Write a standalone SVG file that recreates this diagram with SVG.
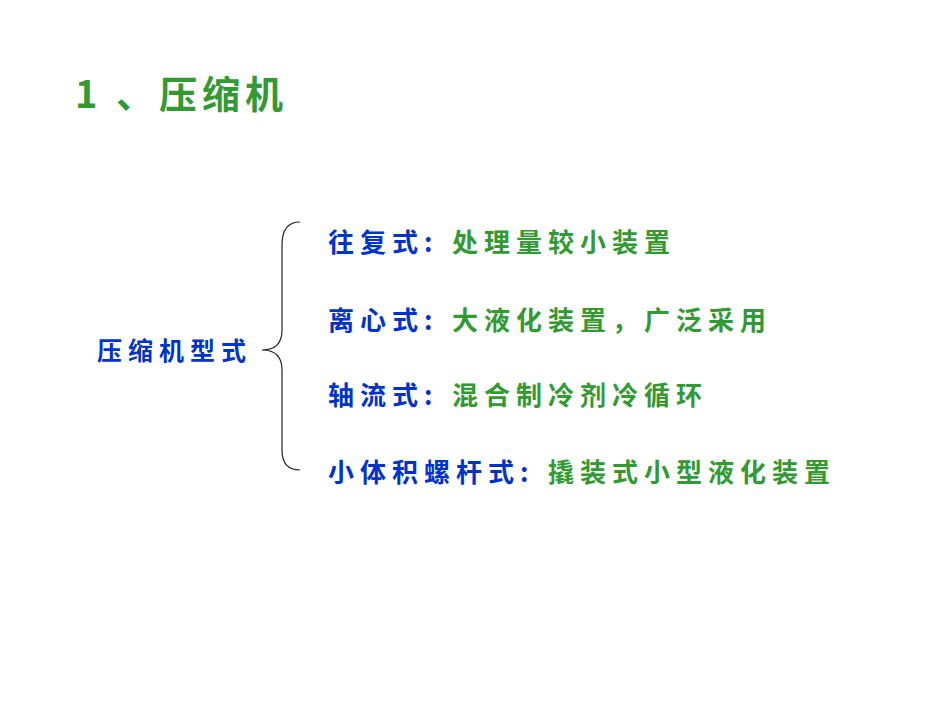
<svg xmlns="http://www.w3.org/2000/svg" width="950" height="713" viewBox="0 0 950 713">
<style>
text{font-family:"Noto Sans CJK SC","Noto Sans CJK JP",sans-serif;font-weight:bold}
.g{fill:#339933}.b{fill:#0033cc}
.t{font-size:26px;letter-spacing:6px}
</style>
<rect width="950" height="713" fill="#fff"/>
<text x="75" y="108" class="g" style="font-size:38px;letter-spacing:5px">1 、压缩机</text>
<g id="root"><text x="97" y="360" class="b" style="font-size:25px;letter-spacing:6px">压缩机型式</text></g>
<g id="connectors"><path d="M300 222 Q282 222 282 245 L282 330 Q282 350 262 350 Q282 350 282 370 L282 450 Q282 470 300 470" fill="none" stroke="#222" stroke-width="1.2"/></g>
<g id="n1"><text x="328" y="252" class="t b">往复式:</text><text x="452" y="252" class="t g">处理量较小装置</text></g>
<g id="n2"><text x="328" y="330" class="t b">离心式:</text><text x="452" y="330" class="t g">大液化装置，广泛采用</text></g>
<g id="n3"><text x="328" y="405" class="t b">轴流式:</text><text x="452" y="405" class="t g">混合制冷剂冷循环</text></g>
<g id="n4"><text x="328" y="482" class="t b">小体积螺杆式:</text><text x="548" y="482" class="t g">撬装式小型液化装置</text></g>
</svg>
